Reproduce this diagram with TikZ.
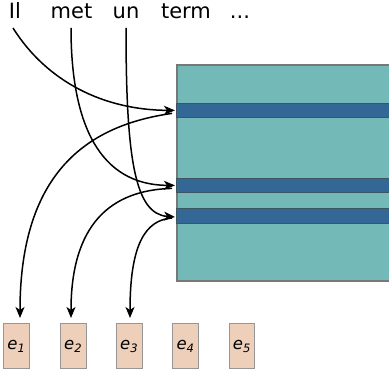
\documentclass[tikz,border=0pt]{standalone}
\usepackage{fontspec}
\setmainfont{DejaVu Sans}
\usetikzlibrary{arrows.meta}
\definecolor{teal1}{RGB}{114,185,183}
\definecolor{rectborder}{RGB}{120,120,120}
\definecolor{stripe}{RGB}{51,104,150}
\definecolor{stripeborder}{RGB}{60,85,95}
\definecolor{boxfill}{RGB}{238,207,186}
\definecolor{boxborder}{RGB}{150,150,150}
\tikzset{
  word/.style={anchor=base, inner sep=0pt, font=\fontsize{21}{24}\selectfont},
  stripebar/.style={draw=stripeborder, line width=0.8pt, fill=stripe, anchor=north west, minimum width=230pt, minimum height=14.6pt, inner sep=0pt},
  ebox/.style={draw=boxborder, line width=0.9pt, fill=boxfill, minimum width=25.5pt, minimum height=45pt, inner sep=0pt, anchor=north west, font=\fontsize{16.5}{18}\selectfont\itshape},
  conn/.style={line width=1.5pt, -{Stealth[length=11pt,width=9pt,inset=3pt]}}
}
\begin{document}
\begin{tikzpicture}[x=1pt,y=-1pt]
\useasboundingbox (0,0) rectangle (389,379);
% words
\node[word] (w1) at (15,19) {Il};
\node[word] (w2) at (71.5,19) {met};
\node[word] (w3) at (126,19) {un};
\node[word] (w4) at (186,19) {term};
\node[word] (w5) at (240,19) {...};
% big rectangle
\node[draw=rectborder, line width=2pt, fill=teal1, anchor=north west, minimum width=230pt, minimum height=216pt, inner sep=0pt] (mat) at (176,64) {};
\node[stripebar] (s1) at (176,102.7) {};
\node[stripebar] (s2) at (176,177.7) {};
\node[stripebar] (s3) at (176,208.3) {};
% boxes
\node[ebox] (e1) at (3.3,323.3) {e\textsubscript{1}};
\node[ebox] (e2) at (60,323.3) {e\textsubscript{2}};
\node[ebox] (e3) at (116,323.3) {e\textsubscript{3}};
\node[ebox] (e4) at (172.3,323.3) {e\textsubscript{4}};
\node[ebox] (e5) at (228.7,323.3) {e\textsubscript{5}};
% start/end coordinates
\coordinate (a1) at (13,28);
\coordinate (a2) at (71,28);
\coordinate (a3) at (126,28);
\coordinate (t1) at (20,318);
\coordinate (t2) at (71,318);
\coordinate (t3) at (130,318);
% incoming
\draw[conn] (a1) .. controls (47,82) and (104,110) .. ([xshift=-1pt]s1.west);
\draw[conn] (a2) .. controls (71,125) and (100,185) .. ([xshift=-1pt]s2.west);
\draw[conn] (a3) .. controls (126,160) and (135,214) .. ([xshift=-1pt,yshift=-1pt]s3.west);
% outgoing
\draw[conn] ([xshift=-4pt,yshift=-3pt]s1.west) .. controls (90,125) and (20,170) .. (t1);
\draw[conn] ([xshift=-4pt,yshift=-3pt]s2.west) .. controls (110,190) and (71,225) .. (t2);
\draw[conn] ([xshift=-4pt,yshift=-2pt]s3.west) .. controls (145,220) and (130,245) .. (t3);
\end{tikzpicture}
\end{document}
